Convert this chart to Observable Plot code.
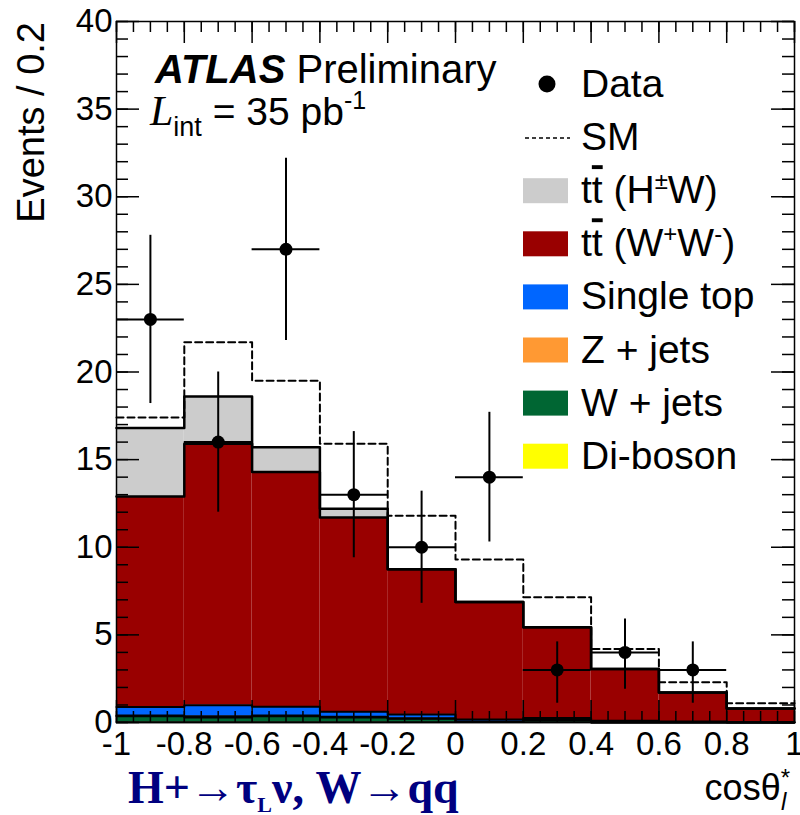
<!DOCTYPE html>
<html><head><meta charset="utf-8">
<script src="https://cdn.jsdelivr.net/npm/d3@7"></script>
<script src="https://cdn.jsdelivr.net/npm/@observablehq/plot@0.6"></script>
<style>body{margin:0;background:#fff;} svg{display:block;}</style>
</head><body><div id="chart"></div>
<script>
// ---- data ----
const binEdges   = [-1, -0.8, -0.6, -0.4, -0.2, 0, 0.2, 0.4, 0.6, 0.8, 1];
const dataEvents = [23, 16, 27, 13, 10, 14, 3, 4, 3, 0];
const dataErrLow = [4.8, 4.0, 5.2, 3.6, 3.2, 3.7, 1.9, 2.1, 1.9, 0];
const dataErrHigh= [4.8, 4.0, 5.2, 3.6, 3.2, 3.7, 1.6, 1.9, 1.6, 0];
const diboson    = [0.02, 0.02, 0.02, 0.02, 0.01, 0.01, 0.01, 0, 0, 0];
const wjets      = [0.33, 0.26, 0.33, 0.26, 0.2, 0.02, 0.12, 0, 0, 0];
const zjets      = [0.05, 0.08, 0.05, 0.05, 0.03, 0.02, 0.02, 0.02, 0.01, 0];
const singleTop  = [0.48, 0.63, 0.5, 0.29, 0.22, 0.12, 0.1, 0.08, 0.04, 0.02];
const ttWW       = [12.02, 14.91, 13.4, 11.08, 8.29, 6.7, 5.18, 2.95, 1.66, 0.78];
const ttHW       = [3.9, 2.7, 1.4, 0.5, 0, 0, 0, 0, 0, 0];
const smExpected = [17.4, 21.7, 19.5, 15.9, 11.8, 9.3, 7.15, 4.2, 2.3, 1.1];

const xTicks = [-1, -0.8, -0.6, -0.4, -0.2, 0, 0.2, 0.4, 0.6, 0.8, 1];
const yTicks = [0, 5, 10, 15, 20, 25, 30, 35, 40];

const components = [
  {name: "Di-boson",  values: diboson,   color: "#ffff00"},
  {name: "W + jets",  values: wjets,     color: "#006633"},
  {name: "Z + jets",  values: zjets,     color: "#ff9933"},
  {name: "Single top",values: singleTop, color: "#0066ff"},
  {name: "ttWW",      values: ttWW,      color: "#990000"},
  {name: "ttHW",      values: ttHW,      color: "#cccccc"}
];

// ---- derived tables ----
const rects = [];
const tops = [];
const cum = new Array(10).fill(0);
components.forEach((c, k) => {
  const top = [];
  for (let i = 0; i < 10; i++) {
    const y1 = cum[i], y2 = cum[i] + c.values[i];
    if (c.values[i] > 0) rects.push({x1: binEdges[i], x2: binEdges[i+1], y1, y2, color: c.color});
    cum[i] = y2; top.push(y2);
  }
  binEdges.forEach((e, i) => tops.push({layer: k, x: e, y: top[Math.min(i, 9)]}));
});
const smLine = binEdges.map((e, i) => ({x: e, y: smExpected[Math.min(i, 9)]}));
const pts = dataEvents.map((v, i) => ({
  x: (binEdges[i] + binEdges[i+1]) / 2, x1: binEdges[i], x2: binEdges[i+1],
  y: v, lo: v - dataErrLow[i], hi: v + dataErrHigh[i]
})).filter(d => d.y > 0);

const W = 800, H = 815, mL = 116, mR = 6, mT = 21, mB = 93;
const pw = W - mL - mR, ph = H - mT - mB;
const xMinor = d3.range(0, 41).map(i => -1 + i * 0.05);
const yMinor = d3.range(0, 41);

const svg = Plot.plot({
  width: W, height: H,
  marginLeft: mL, marginRight: mR, marginTop: mT, marginBottom: mB,
  x: {domain: [-1, 1]},
  y: {domain: [0, 40]},
  style: {fontFamily: "'Liberation Sans', Arial, sans-serif", background: "white", color: "black"},
  marks: [
    Plot.rect(rects, {x1: "x1", x2: "x2", y1: "y1", y2: "y2", fill: d => d.color}),
    Plot.line(tops, {x: "x", y: "y", z: "layer", curve: "step-after", stroke: "black", strokeWidth: d => d.layer >= 4 ? 2.5 : 2}),
    Plot.line(smLine, {x: "x", y: "y", curve: "step-after", stroke: "black", strokeWidth: 2, strokeDasharray: "7,4"}),
    Plot.ruleY(pts, {y: "y", x1: "x1", x2: "x2", stroke: "black", strokeWidth: 2}),
    Plot.ruleX(pts, {x: "x", y1: "lo", y2: "hi", stroke: "black", strokeWidth: 2}),
    Plot.dot(pts, {x: "x", y: "y", r: 6.5, fill: "black", stroke: "none"}),
    // inward ticks, all four sides
    Plot.tickY(yMinor, {y: d => d, insetRight: pw - 12, stroke: "black", strokeWidth: 1.5}),
    Plot.tickY(yTicks, {y: d => d, insetRight: pw - 23, stroke: "black", strokeWidth: 1.5}),
    Plot.tickY(yMinor, {y: d => d, insetLeft: pw - 12, stroke: "black", strokeWidth: 1.5}),
    Plot.tickY(yTicks, {y: d => d, insetLeft: pw - 23, stroke: "black", strokeWidth: 1.5}),
    Plot.tickX(xMinor, {x: d => d, insetBottom: ph - 11, stroke: "black", strokeWidth: 1.5}),
    Plot.tickX(xTicks, {x: d => d, insetBottom: ph - 22, stroke: "black", strokeWidth: 1.5}),
    Plot.tickX(xMinor, {x: d => d, insetTop: ph - 11, stroke: "black", strokeWidth: 1.5}),
    Plot.tickX(xTicks, {x: d => d, insetTop: ph - 22, stroke: "black", strokeWidth: 1.5}),
    Plot.frame({stroke: "black", strokeWidth: 1.5}),
    Plot.axisY({ticks: yTicks, tickSize: 0, tickPadding: 4, fontSize: 33, label: null, tickFormat: d => String(d)}),
    Plot.axisX({ticks: xTicks, tickSize: 0, tickPadding: 9, fontSize: 33, label: null, tickFormat: d => String(d)})
  ]
});
svg.style.overflow = "visible";
document.getElementById("chart").appendChild(svg);

const S = d3.select(svg);
const sans = "'Liberation Sans', Arial, sans-serif";
const serif = "'Liberation Serif', 'Times New Roman', serif";
const txt = () => S.append("text").attr("text-anchor", "start").attr("fill", "black");

// y label
S.append("text").attr("transform", "translate(44,22) rotate(-90)")
  .attr("text-anchor", "end").attr("font-family", sans).attr("font-size", 38).text("Events / 0.2");

// x label
const xl = S.append("text").attr("x", 790).attr("y", 800).attr("text-anchor", "end")
  .attr("font-family", sans).attr("font-size", 36);
xl.append("tspan").text("cosθ");
xl.append("tspan").attr("font-size", 24).attr("dy", -14).text("*");
xl.append("tspan").attr("font-size", 24).attr("font-style", "italic").attr("dx", -9).attr("dy", 24).text("l");

// ATLAS label
const at = txt().attr("x", 155).attr("y", 83).attr("font-family", sans).attr("font-size", 40);
at.append("tspan").attr("font-weight", "bold").attr("font-style", "italic").text("ATLAS");
at.append("tspan").text(" Preliminary");
const li = txt().attr("x", 150).attr("y", 125).attr("font-family", sans).attr("font-size", 39);
li.append("tspan").attr("font-family", serif).attr("font-style", "italic").attr("font-size", 42).text("L");
li.append("tspan").attr("font-size", 27).attr("dy", 11).text("int");
li.append("tspan").attr("dy", -11).text(" = 35 pb");
li.append("tspan").attr("font-size", 25).attr("dy", -16).text("-1");

// legend
const base = i => 97 + 53.1 * i;
const lt = (i) => txt().attr("x", 581).attr("y", base(i)).attr("font-family", sans).attr("font-size", 39);
S.append("circle").attr("cx", 547).attr("cy", base(0) - 13).attr("r", 8.5).attr("fill", "black");
lt(0).text("Data");
S.append("line").attr("x1", 525).attr("x2", 570).attr("y1", base(1) - 12).attr("y2", base(1) - 12)
  .attr("stroke", "black").attr("stroke-width", 1.5).attr("stroke-dasharray", "4,3");
lt(1).text("SM");
const legendBoxes = ["#cccccc", "#990000", "#0066ff", "#ff9933", "#006633", "#ffff00"];
legendBoxes.forEach((c, j) => {
  S.append("rect").attr("x", 523).attr("y", base(j + 2) - 25).attr("width", 45).attr("height", 25).attr("fill", c);
});
function ttbar(t) {
  t.append("tspan").text("t");
  t.append("tspan").style("text-decoration", "overline").text("t");
}
let t2 = lt(2); ttbar(t2);
t2.append("tspan").text(" (H");
t2.append("tspan").attr("font-size", 24).attr("dy", -14).text("±");
t2.append("tspan").attr("dy", 14).text("W)");
let t3 = lt(3); ttbar(t3);
t3.append("tspan").text(" (W");
t3.append("tspan").attr("font-size", 24).attr("dy", -14).text("+");
t3.append("tspan").attr("dy", 14).text("W");
t3.append("tspan").attr("font-size", 24).attr("dy", -14).text("-");
t3.append("tspan").attr("dy", 14).text(")");
lt(4).text("Single top");
lt(5).text("Z + jets");
lt(6).text("W + jets");
lt(7).text("Di-boson");

// caption
const cap = txt().attr("x", 128).attr("y", 803).attr("font-family", serif)
  .attr("font-weight", "bold").attr("font-size", 46).attr("fill", "#00007f");
cap.append("tspan").text("H+→τ");
cap.append("tspan").attr("font-size", 22).attr("dy", 9).text("L");
cap.append("tspan").attr("dy", -9).text("ν, W→qq");
</script>
</body></html>
